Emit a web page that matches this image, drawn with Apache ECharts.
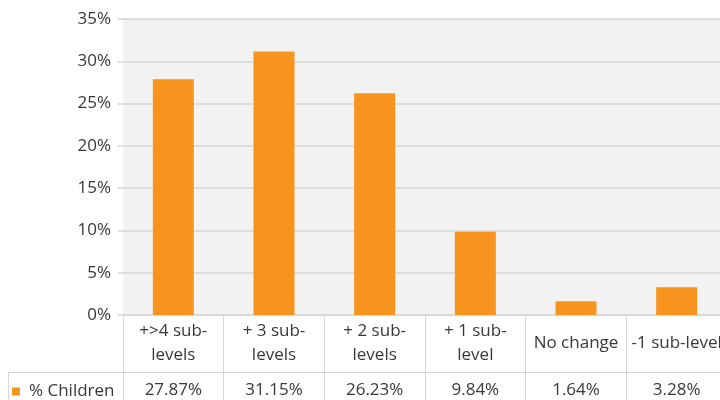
<!DOCTYPE html>
<html>
<head>
<meta charset="utf-8">
<script src="https://cdn.jsdelivr.net/npm/echarts@6/dist/echarts.min.js"></script>
<style>
  html, body { margin: 0; padding: 0; background: #fff; }
  #chart { width: 720px; height: 400px; }
</style>
</head>
<body>
<div id="chart"></div>
<script>
// 数据
const categories = ['+>4 sub-\nlevels', '+ 3 sub-\nlevels', '+ 2 sub-\nlevels', '+ 1 sub-\nlevel', 'No change', '-1 sub-level']
const seriesName = '% Children'
const children = [27.87, 31.15, 26.23, 9.84, 1.64, 3.28]
const yTicks = { min: 0, max: 35, interval: 5 }

const TEXT = '#383838'
const LINE = '#d6d6d6'
const ORANGE = '#F7941E'
const FONT = '"Open Sans", sans-serif'
const FS = 17

const chart = echarts.init(document.getElementById('chart'), null, { renderer: 'canvas' })

chart.setOption({
  animation: false,
  backgroundColor: '#fff',
  textStyle: { fontFamily: FONT, color: TEXT },
  grid: {
    left: 123, top: 19, bottom: 85, width: 604,
    outerBoundsMode: 'none',
    show: true, backgroundColor: '#f2f2f2', borderWidth: 0,
  },
  legend: {
    data: [seriesName],
    left: 12, top: 383,
    icon: 'rect', itemWidth: 8, itemHeight: 8, itemGap: 6,
    padding: 0,
    textStyle: { color: TEXT, fontSize: FS, fontFamily: FONT, padding: [0, 0, 0, 4] },
  },
  xAxis: [
    {
      type: 'category',
      data: categories,
      axisLine: { lineStyle: { color: LINE, width: 1.5 } },
      axisTick: { show: true, length: 85, lineStyle: { color: LINE, width: 1 } },
      axisLabel: {
        color: TEXT, fontSize: FS, fontFamily: FONT,
        margin: 28, verticalAlign: 'middle', lineHeight: 24,
        interval: 0,
      },
    },
    {
      // 数据表的数值行
      type: 'category',
      position: 'bottom',
      data: children.map(v => v.toFixed(2) + '%'),
      axisLine: { show: false },
      axisTick: { show: false },
      axisLabel: {
        color: TEXT, fontSize: FS, fontFamily: FONT,
        margin: 75, verticalAlign: 'middle', interval: 0,
      },
    },
  ],
  yAxis: {
    type: 'value',
    min: yTicks.min, max: yTicks.max, interval: yTicks.interval,
    axisLine: { show: false },
    axisTick: { show: true, length: 5, lineStyle: { color: LINE, width: 1.5 } },
    axisLabel: { formatter: '{value}%', color: TEXT, fontSize: FS, fontFamily: FONT, margin: 12 },
    splitLine: { lineStyle: { color: LINE, width: 1.5 } },
  },
  series: [
    {
      name: seriesName,
      type: 'bar',
      data: children,
      barWidth: 41,
      itemStyle: { color: ORANGE },
    },
  ],
  graphic: [
    // 数据表的横线和左边框
    { type: 'line', shape: { x1: 8, y1: 372.5, x2: 720, y2: 372.5 }, style: { stroke: LINE, lineWidth: 1 } },
    { type: 'line', shape: { x1: 8.5, y1: 372, x2: 8.5, y2: 400 }, style: { stroke: LINE, lineWidth: 1 } },
  ],
})
</script>
</body>
</html>
